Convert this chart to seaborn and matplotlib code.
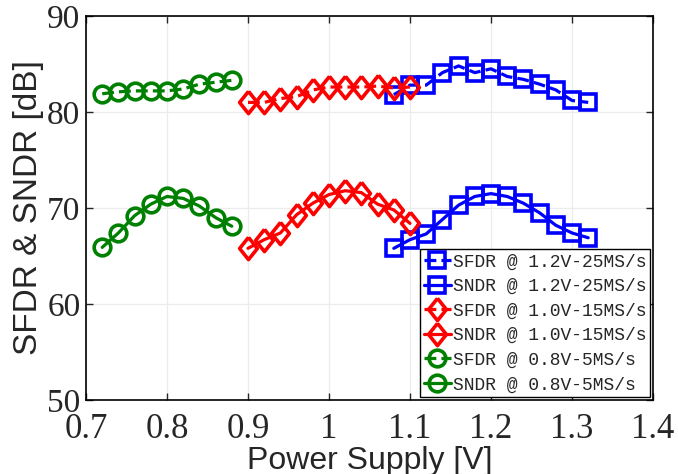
import matplotlib
matplotlib.use("Agg")
import matplotlib.pyplot as plt
import seaborn as sns
import numpy as np

# ---- data ----
v_08 = [0.72, 0.74, 0.76, 0.78, 0.80, 0.82, 0.84, 0.86, 0.88]
sfdr_08 = [81.9, 82.1, 82.2, 82.2, 82.2, 82.4, 82.9, 83.1, 83.3]
sndr_08 = [65.9, 67.4, 69.2, 70.4, 71.2, 71.0, 70.2, 69.0, 68.1]

v_10 = [0.90, 0.92, 0.94, 0.96, 0.98, 1.00, 1.02, 1.04, 1.06, 1.08, 1.10]
sfdr_10 = [81.0, 81.0, 81.4, 81.6, 82.3, 82.6, 82.6, 82.6, 82.7, 82.5, 82.6]
sndr_10 = [65.8, 66.7, 67.4, 69.3, 70.5, 71.4, 71.8, 71.6, 70.4, 69.8, 68.4]

v_12 = [1.08, 1.10, 1.12, 1.14, 1.16, 1.18, 1.20, 1.22, 1.24, 1.26, 1.28, 1.30, 1.32]
sfdr_12 = [81.8, 82.8, 82.8, 84.1, 84.8, 84.1, 84.5, 83.7, 83.4, 82.9, 82.3, 81.2, 81.0]
sndr_12 = [65.8, 66.7, 67.3, 68.8, 70.3, 71.2, 71.5, 71.2, 70.5, 69.5, 68.2, 67.4, 66.9]

x_ticks = [0.7, 0.8, 0.9, 1.0, 1.1, 1.2, 1.3, 1.4]
x_ticklabels = ["0.7", "0.8", "0.9", "1", "1.1", "1.2", "1.3", "1.4"]
y_ticks = [50, 60, 70, 80, 90]
labels = ["SFDR @ 1.2V-25MS/s", "SNDR @ 1.2V-25MS/s",
          "SFDR @ 1.0V-15MS/s", "SNDR @ 1.0V-15MS/s",
          "SFDR @ 0.8V-5MS/s", "SNDR @ 0.8V-5MS/s"]

sns.set_style("ticks")
plt.rcParams["font.family"] = ["Liberation Serif", "DejaVu Serif"]

fig = plt.figure(figsize=(6.78, 4.74), dpi=100)
ax = fig.add_axes([86 / 678, 1 - 400 / 474, (653 - 86) / 678, (400 - 16) / 474])

diamond = [(0, 1), (0.8, 0), (0, -1), (-0.8, 0), (0, 1)]

series = [
    (v_12, sfdr_12, "#0000ff", "s", 11, "--", labels[0]),
    (v_12, sndr_12, "#0000ff", "s", 11, "-", labels[1]),
    (v_10, sfdr_10, "#ff0000", diamond, 16, "--", labels[2]),
    (v_10, sndr_10, "#ff0000", diamond, 16, "-", labels[3]),
    (v_08, sfdr_08, "#008000", "o", 12, "--", labels[4]),
    (v_08, sndr_08, "#008000", "o", 12, "-", labels[5]),
]
for x, y, c, m, ms, ls, lab in series:
    sns.lineplot(x=x, y=y, ax=ax, color=c, marker=m, markersize=ms,
                 markerfacecolor="none", markeredgecolor=c, markeredgewidth=2.6,
                 linewidth=2.3, linestyle=ls, label=lab)

ax.set_xlim(0.7, 1.4)
ax.set_ylim(50, 90)
ax.set_xticks(x_ticks)
ax.set_xticklabels(x_ticklabels, fontsize=25, family=["Liberation Serif"])
ax.set_yticks(y_ticks)
ax.set_yticklabels([str(t) for t in y_ticks], fontsize=24, family=["Liberation Serif"])
ax.tick_params(direction="in", length=5, width=1, top=True, right=True, pad=4)
ax.tick_params(axis="x", pad=9)
ax.grid(True, color="#ececec", linewidth=0.9)
for s in ax.spines.values():
    s.set_linewidth(1.2)
    s.set_color("black")

ax.set_xlabel("Power Supply [V]", fontsize=23, family=["Liberation Sans"], labelpad=0)
ax.set_ylabel("SFDR & SNDR [dB]", fontsize=24, family=["Liberation Sans"], labelpad=2)

leg = ax.legend(loc="lower right", prop={"family": "Liberation Mono", "size": 13},
                frameon=True, fancybox=False, edgecolor="black", framealpha=1,
                borderaxespad=0.15, handlelength=1.5, handletextpad=0.1,
                labelspacing=0.42, borderpad=0.22)
leg.get_frame().set_linewidth(1.0)

fig.savefig("out.png", dpi=100)
